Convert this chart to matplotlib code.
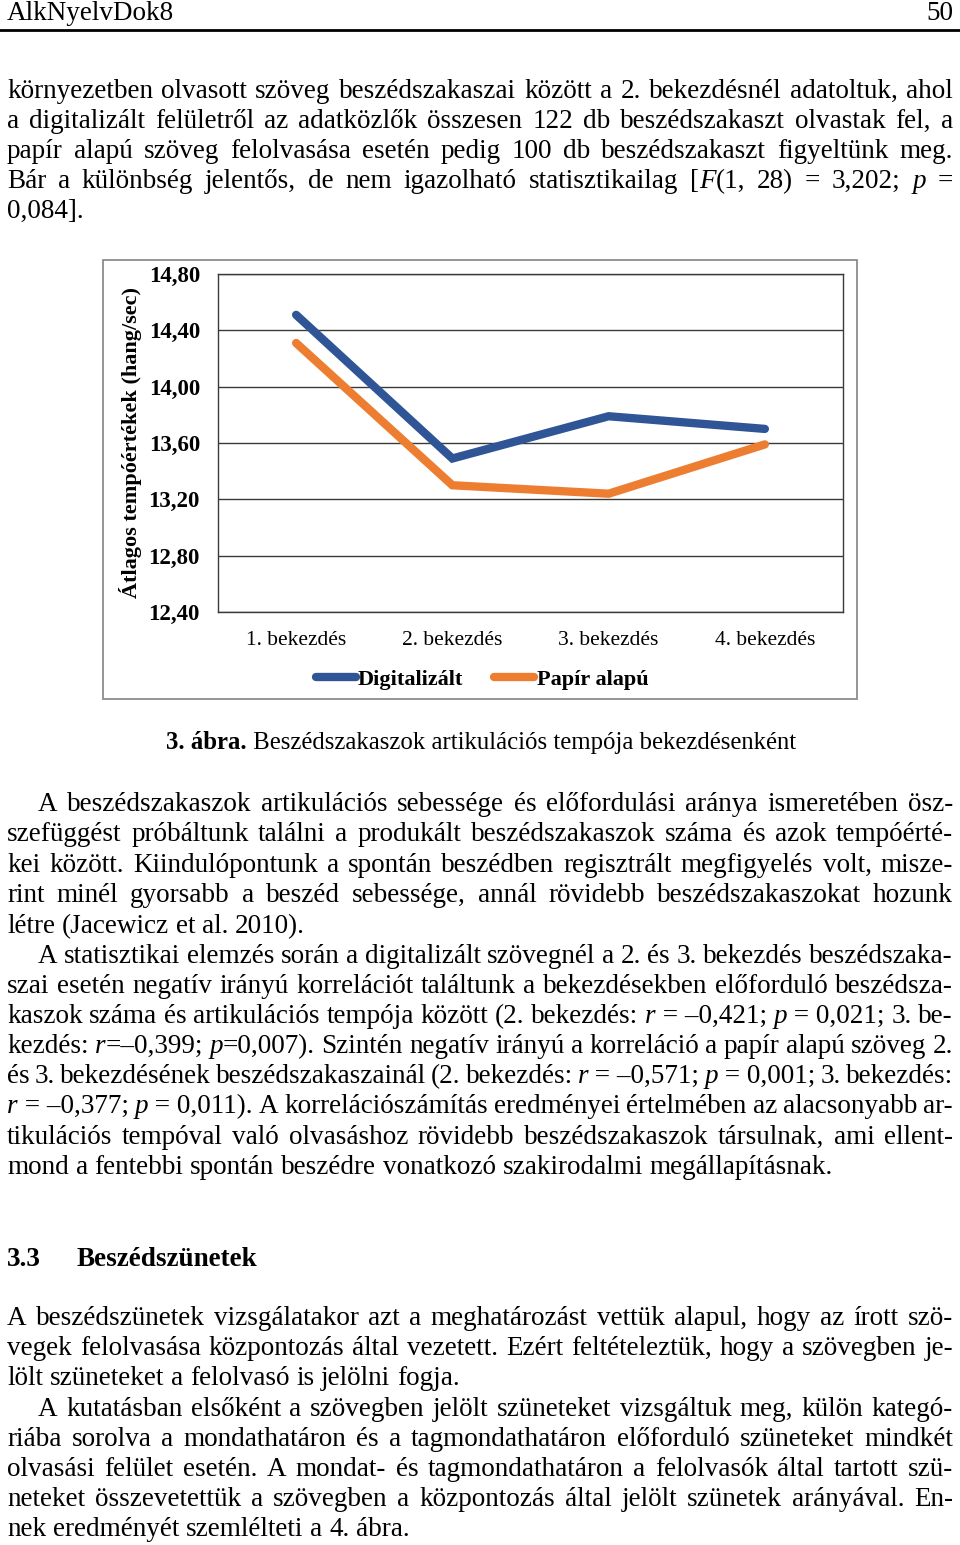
import re
import matplotlib
matplotlib.use('Agg')
import matplotlib.pyplot as plt
import matplotlib.patches as mpatches
from matplotlib.lines import Line2D

# ---------------- chart data ----------------
categories = ['1. bekezdés', '2. bekezdés', '3. bekezdés', '4. bekezdés']
digitalizalt = [14.51, 13.49, 13.79, 13.70]
papir_alapu = [14.31, 13.30, 13.24, 13.59]
series_names = ['Digitalizált', 'Papír alapú']
y_ticks = [12.40, 12.80, 13.20, 13.60, 14.00, 14.40, 14.80]
y_label = 'Átlagos tempóértékek (hang/sec)'

# ---------------- page text ----------------
header_left = 'AlkNyelvDok8'
header_right = '50'

para1 = [
    'környezetben olvasott szöveg beszédszakaszai között a 2. bekezdésnél adatoltuk, ahol',
    'a digitalizált felületről az adatközlők összesen 122 db beszédszakaszt olvastak fel, a',
    'papír alapú szöveg felolvasása esetén pedig 100 db beszédszakaszt figyeltünk meg.',
    'Bár a különbség jelentős, de nem igazolható statisztikailag [{i:F}(1, 28) = 3,202; {i:p} =',
    '0,084].',
]
caption_bold = '3. ábra.'
caption_text = ' Beszédszakaszok artikulációs tempója bekezdésenként'
para2 = [
    'A beszédszakaszok artikulációs sebessége és előfordulási aránya ismeretében ösz-',
    'szefüggést próbáltunk találni a produkált beszédszakaszok száma és azok tempóérté-',
    'kei között. Kiindulópontunk a spontán beszédben regisztrált megfigyelés volt, misze-',
    'rint minél gyorsabb a beszéd sebessége, annál rövidebb beszédszakaszokat hozunk',
    'létre (Jacewicz et al. 2010).',
]
para3 = [
    'A statisztikai elemzés során a digitalizált szövegnél a 2. és 3. bekezdés beszédszaka-',
    'szai esetén negatív irányú korrelációt találtunk a bekezdésekben előforduló beszédsza-',
    'kaszok száma és artikulációs tempója között (2. bekezdés: {i:r}~=~–0,421; {i:p}~=~0,021; 3. be-',
    'kezdés: {i:r}=–0,399; {i:p}=0,007). Szintén negatív irányú a korreláció a papír alapú szöveg 2.',
    'és 3. bekezdésének beszédszakaszainál (2. bekezdés: {i:r}~=~–0,571; {i:p}~=~0,001; 3. bekezdés:',
    '{i:r}~=~–0,377; {i:p}~=~0,011). A korrelációszámítás eredményei értelmében az alacsonyabb ar-',
    'tikulációs tempóval való olvasáshoz rövidebb beszédszakaszok társulnak, ami ellent-',
    'mond a fentebbi spontán beszédre vonatkozó szakirodalmi megállapításnak.',
]
heading_num = '3.3'
heading_text = 'Beszédszünetek'
para4 = [
    'A beszédszünetek vizsgálatakor azt a meghatározást vettük alapul, hogy az írott szö-',
    'vegek felolvasása központozás által vezetett. Ezért feltételeztük, hogy a szövegben je-',
    'lölt szüneteket a felolvasó is jelölni fogja.',
]
para5 = [
    'A kutatásban elsőként a szövegben jelölt szüneteket vizsgáltuk meg, külön kategó-',
    'riába sorolva a mondathatáron és a tagmondathatáron előforduló szüneteket mindkét',
    'olvasási felület esetén. A mondat- és tagmondathatáron a felolvasók által tartott szü-',
    'neteket összevetettük a szövegben a központozás által jelölt szünetek arányával. En-',
    'nek eredményét szemlélteti a 4. ábra.',
]

# ---------------- setup ----------------
W, H = 960, 1545
SERIF = 'Liberation Serif'
BODY = 19.5
fig = plt.figure(figsize=(W / 100, H / 100), dpi=100)
fig.patch.set_facecolor('white')
renderer = fig.canvas.get_renderer()


def fx(x):
    return x / W


def fy(y):
    return 1 - y / H


def parse(word):
    runs, pos = [], 0
    for m in re.finditer(r'\{([ib]):([^}]*)\}', word):
        if m.start() > pos:
            runs.append((word[pos:m.start()], 'n'))
        runs.append((m.group(2), m.group(1)))
        pos = m.end()
    if pos < len(word):
        runs.append((word[pos:], 'n'))
    return [(t.replace('~', ' '), s) for t, s in runs]


def kw(style, size):
    return dict(fontsize=size, family=SERIF,
                style='italic' if style == 'i' else 'normal',
                weight='bold' if style == 'b' else 'normal')


def measure(s, style, size):
    t = fig.text(0, 0, s, **kw(style, size))
    w = t.get_window_extent(renderer).width
    t.remove()
    return w


def draw_line(line, x0, x1, yb, size=BODY, justify=True):
    words = [parse(w) for w in line.split(' ')]
    while True:
        widths = [[measure(t, s, size) for t, s in wd] for wd in words]
        total = sum(sum(w) for w in widths)
        space = 0.25 * size * 100 / 72
        if justify and len(words) > 1:
            gap = (x1 - x0 - total) / (len(words) - 1)
            if gap < 0.45 * space and size > 12:
                size -= 0.2
                continue
        else:
            gap = space
        break
    x = x0
    for wd, wl in zip(words, widths):
        for (t, s), w in zip(wd, wl):
            fig.text(fx(x), fy(yb), t, va='baseline', ha='left', **kw(s, size))
            x += w
        x += gap


def draw_par(lines, baselines, indent=True, x0=7, x1=953):
    for i, (ln, yb) in enumerate(zip(lines, baselines)):
        start = x0 + (31 if (i == 0 and indent) else 0)
        draw_line(ln, start, x1, yb, justify=(i < len(lines) - 1))


# header
fig.text(fx(7), fy(20), header_left, va='baseline', ha='left', fontsize=BODY, family=SERIF)
fig.text(fx(953), fy(20), header_right, va='baseline', ha='right', fontsize=BODY, family=SERIF)
fig.add_artist(Line2D([0, 1], [fy(30), fy(30)], color='black', lw=2.0, transform=fig.transFigure))

draw_par(para1, [98, 128, 158, 188, 218], indent=False)
draw_par(para2, [811, 841, 872, 902, 933])
draw_par(para3, [963, 993, 1023, 1053, 1083, 1113, 1144, 1174])
fig.text(fx(7), fy(1266), heading_num, va='baseline', ha='left', fontsize=BODY, family=SERIF, weight='bold')
fig.text(fx(77), fy(1266), heading_text, va='baseline', ha='left', fontsize=BODY, family=SERIF, weight='bold')
draw_par(para4, [1325, 1355, 1385], indent=False)
draw_par(para5, [1416, 1446, 1476, 1506, 1536])

# caption, centered
CAP = 17.8
wb = measure(caption_bold, 'b', CAP)
wt = measure(caption_text, 'n', CAP)
cx0 = 481 - (wb + wt) / 2
fig.text(fx(cx0), fy(749), caption_bold, va='baseline', ha='left', **kw('b', CAP))
fig.text(fx(cx0 + wb), fy(749), caption_text, va='baseline', ha='left', **kw('n', CAP))

# ---------------- chart ----------------
fig.add_artist(mpatches.Rectangle((fx(103), fy(699)), (857 - 103) / W, (699 - 260) / H,
                                  transform=fig.transFigure, fill=False,
                                  edgecolor='#8c8c8c', lw=1.3))

ax = fig.add_axes([fx(218), fy(612), (843 - 218) / W, (612 - 274) / H])
BLUE = '#2F5597'
ORANGE = '#ED7D31'
xs = list(range(len(categories)))
ax.plot(xs, digitalizalt, color=BLUE, lw=6, solid_capstyle='round', solid_joinstyle='miter',
        label=series_names[0], zorder=3)
ax.plot(xs, papir_alapu, color=ORANGE, lw=6, solid_capstyle='round', solid_joinstyle='miter',
        label=series_names[1], zorder=3)
ax.set_xlim(-0.5, len(categories) - 0.5)
ax.set_ylim(y_ticks[0], y_ticks[-1])
ax.set_yticks(y_ticks)
ax.set_yticklabels([f'{v:.2f}'.replace('.', ',') for v in y_ticks],
                   fontsize=16.5, family=SERIF, weight='bold')
ax.set_xticks(xs)
ax.set_xticklabels(categories, fontsize=15.5, family=SERIF)
ax.tick_params(axis='both', length=0)
ax.tick_params(axis='y', pad=13)
ax.tick_params(axis='x', pad=14)
ax.grid(axis='y', color='#3a3a3a', lw=1.0, zorder=1)
for sp in ax.spines.values():
    sp.set_color('#3a3a3a')
    sp.set_linewidth(1.0)
ax.set_ylabel(y_label, fontsize=16, family=SERIF, weight='bold')
ax.yaxis.set_label_coords((142 - 218) / 625, 0.5)

leg = ax.legend(loc='center', bbox_to_anchor=(fx(482), fy(680)), bbox_transform=fig.transFigure,
                ncol=2, frameon=False, handlelength=1.8, handletextpad=0.1, columnspacing=1.4,
                prop=dict(family=SERIF, weight='bold', size=16))

fig.savefig('out.png', dpi=100, facecolor='white')
